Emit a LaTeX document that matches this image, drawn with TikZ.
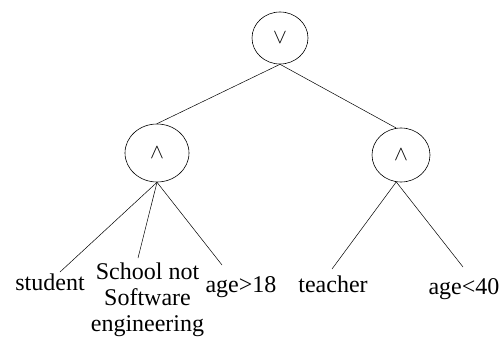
\documentclass[tikz,border=0pt]{standalone}
\usepackage{fontspec}
\setmainfont{Liberation Serif}
\usetikzlibrary{shapes.geometric}
\begin{document}
\begin{tikzpicture}[x=1pt,y=-1pt,
  op/.style={draw,ellipse,inner sep=0pt,line width=0.6pt,font=\fontsize{20}{24}\selectfont},
  lbl/.style={inner sep=0pt,font=\fontsize{24}{26}\selectfont,align=center},
  edge/.style={line width=0.5pt}]
\useasboundingbox (0,0) rectangle (502,339);
\node[op,minimum width=56pt,minimum height=52pt] (or) at (280,38) {$\vee$};
\node[op,minimum width=64pt,minimum height=58pt] (andL) at (157,153) {$\wedge$};
\node[op,minimum width=58pt,minimum height=54pt] (andR) at (401,155) {$\wedge$};
\node[lbl,anchor=base] (student) at (50,290) {student};
\node[lbl] (school) at (147.5,299.4) {School not\\Software\\engineering};
\node[lbl,anchor=base] (age18) at (241,292) {age>18};
\node[lbl,anchor=base] (teacher) at (333,292) {teacher};
\node[lbl,anchor=base] (age40) at (464,294) {age<40};
\coordinate (eStudent) at (60,272);
\coordinate (eSchool) at (138,258);
\coordinate (eAge18) at (222,265);
\coordinate (eTeacher) at (332,269);
\coordinate (eAge40) at (463,267);
\draw[edge] (or.south) -- (andL.north);
\draw[edge] (or.south) -- (andR.100);
\draw[edge] (andL.south) -- (eStudent);
\draw[edge] (andL.south) -- (eSchool);
\draw[edge] (andL.south) -- (eAge18);
\draw[edge] (andR.260) -- (eTeacher);
\draw[edge] (andR.260) -- (eAge40);
\end{tikzpicture}
\end{document}
